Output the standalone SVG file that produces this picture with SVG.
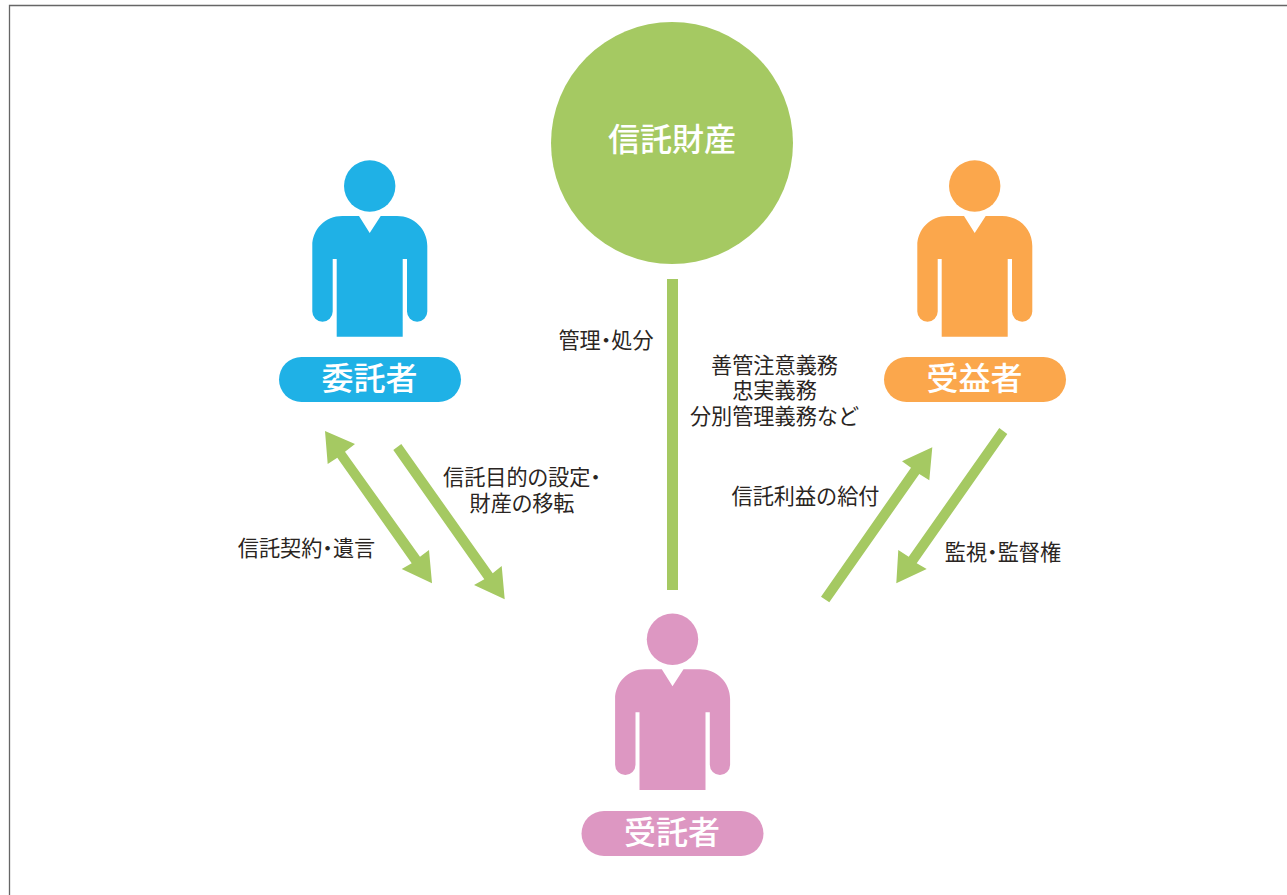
<svg xmlns="http://www.w3.org/2000/svg" width="1287" height="895" viewBox="0 0 1287 895">
<style>
text{font-family:"Noto Sans CJK JP","Noto Sans CJK SC",sans-serif;text-anchor:middle}
.lbl{font-size:21.15px;fill:#2a2522}
.ttl{font-size:32px;font-weight:500;fill:#fff}
.arr{fill:#a5c962}
.dot{font-feature-settings:"palt"}
</style>
<defs>
<g id="person">
<circle cx="369.7" cy="186" r="25.7"/>
<path d="M342.3 216H359L369.7 233L380.7 216H397C414 216 427.3 229 427.3 246V311.5A10.15 10.15 0 0 1 407 311.5V259H402.7V336.7H336.7V259H332.7V311.5A10.2 10.2 0 0 1 312.3 311.5V246C312.3 229 325.3 216 342.3 216Z"/>
</g>
</defs>
<rect width="1287" height="895" fill="#fff"/>
<path d="M1287 5.5H9.5V895" fill="none" stroke="#666" stroke-width="1.3"/>
<g id="connectors">
<rect class="arr" x="667" y="279" width="11" height="311"/>
<polygon class="arr" points="325,431 355,444 345,451.7 420,556.7 429,550 432,583.3 401.7,569 411.7,563.3 337.3,457.7 327.7,464"/>
<polygon class="arr" points="393.3,450 401.3,444 492.7,573.3 501.7,566 504.7,599.3 474,585 484.3,579.3"/>
<polygon class="arr" points="821,596.7 829.3,602.3 919.3,474 929.3,480.3 932.3,447.3 902,461.3 911,467.7"/>
<polygon class="arr" points="999.3,428 1007.3,434 916.7,563.3 926.7,569 896.3,583.3 898.3,550 908.7,556.7"/>
</g>
<g id="asset">
<circle cx="672" cy="143" r="121" fill="#a5c962"/>
<text class="ttl" x="672" y="151">信託財産</text>
</g>
<g id="settlor" fill="#1fb1e6">
<use href="#person"/>
<rect x="279" y="357" width="182" height="45" rx="22.5"/>
<text class="ttl" x="369.5" y="390">委託者</text>
</g>
<g id="beneficiary" fill="#fba74c">
<use href="#person" transform="translate(605 0)"/>
<rect x="884" y="357" width="182" height="45" rx="22.5"/>
<text class="ttl" x="974.5" y="390">受益者</text>
</g>
<g id="trustee" fill="#dd97c2">
<use href="#person" transform="translate(302.8 453.3)"/>
<rect x="581.5" y="811" width="182" height="45" rx="22.5"/>
<text class="ttl" x="672" y="844">受託者</text>
</g>
<g id="labels">
<text class="lbl dot" x="606" y="348">管理・処分</text>
<text class="lbl"><tspan x="774.5" y="372.5">善管注意義務</tspan><tspan x="774.5" y="398">忠実義務</tspan><tspan x="774.5" y="424">分別管理義務など</tspan></text>
<text class="lbl dot"><tspan x="522" y="485">信託目的の設定・</tspan><tspan x="522" y="511">財産の移転</tspan></text>
<text class="lbl dot" x="306.5" y="555.5">信託契約・遺言</text>
<text class="lbl" x="805.5" y="504">信託利益の給付</text>
<text class="lbl dot" x="1003" y="560">監視・監督権</text>
</g>
</svg>
